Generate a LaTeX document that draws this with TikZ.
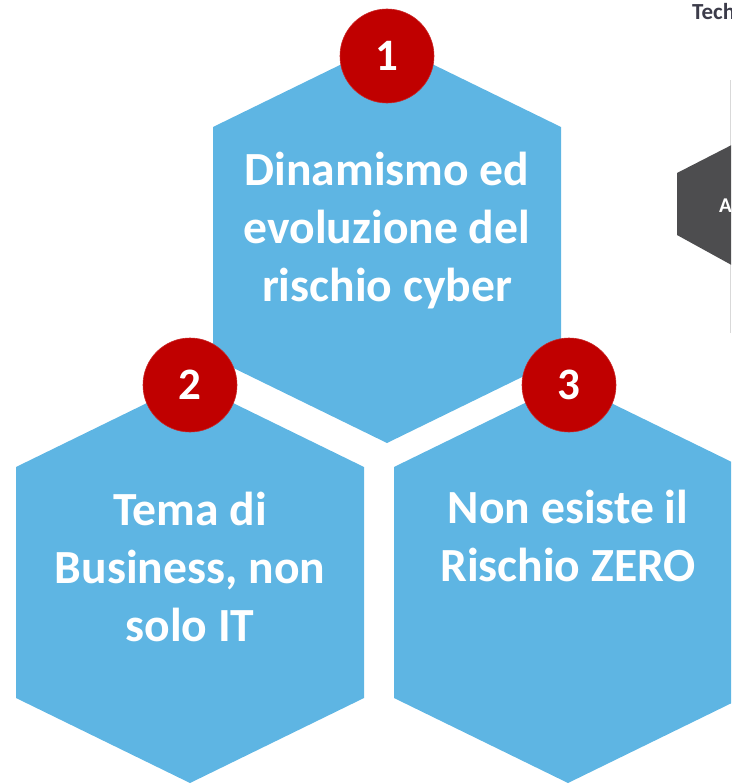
\documentclass[tikz,border=0pt]{standalone}
\usepackage{fontspec}
\setmainfont{Carlito}
\definecolor{hexblue}{HTML}{5EB5E3}
\definecolor{numred}{HTML}{C00000}
\definecolor{darkhex}{HTML}{4D4D4F}
\definecolor{titlegrey}{HTML}{3C3C4A}
\definecolor{linegrey}{HTML}{D9D9D9}
\tikzset{
  hexa/.pic={\fill[hexblue] (0,0) -- (174,85) -- (174,316) -- (0,401) -- (-174,316) -- (-174,85) -- cycle;},
  hextext/.style={text=white, font=\bfseries\fontsize{47.6}{58}\selectfont, inner sep=0pt, anchor=base},
  numcirc/.style={circle, fill=numred, draw=numred!85!white, line width=0.6pt, minimum size=94pt, inner sep=0pt, text=white, font=\bfseries\fontsize{45}{54}\selectfont},
}
\begin{document}
\begin{tikzpicture}[x=1pt,y=-1pt]
\useasboundingbox (0,0) rectangle (731,784);
\clip (0,0) rectangle (731,784);
% partial content at the right edge
\node[anchor=base west, inner sep=0pt, text=titlegrey, font=\bfseries\fontsize{23}{27}\selectfont] (tech) at (692,20) {Tech};
\coordinate (vl1) at (730,80);
\coordinate (vl2) at (730,333);
\draw[linegrey, line width=0.8pt] (vl1) -- (vl2);
\fill[darkhex] (677,173) -- (757,132) -- (837,173) -- (837,235) -- (757,279) -- (677,235) -- cycle;
\node[anchor=base west, inner sep=0pt, text=white, font=\bfseries\fontsize{21}{25}\selectfont] (alab) at (719,212) {A};
% blue hexagons
\pic at (387,42) {hexa};
\pic at (190,382) {hexa};
\pic at (568,382) {hexa};
% numbers
\node[numcirc] (n1) at (387,56) {1};
\node[numcirc] (n2) at (190,385) {2};
\node[numcirc] (n3) at (569,385) {3};
% texts
\node[hextext] (t1a) at (387,185) {Dinamismo ed};
\node[hextext] (t1b) at (387,243) {evoluzione del};
\node[hextext] (t1c) at (387,301) {rischio cyber};
\node[hextext] (t2a) at (190,525) {Tema di};
\node[hextext] (t2b) at (190,583) {Business, non};
\node[hextext] (t2c) at (190,641) {solo IT};
\node[hextext] (t3a) at (568,523) {Non esiste il};
\node[hextext] (t3b) at (568,581) {Rischio ZERO};
\end{tikzpicture}
\end{document}
